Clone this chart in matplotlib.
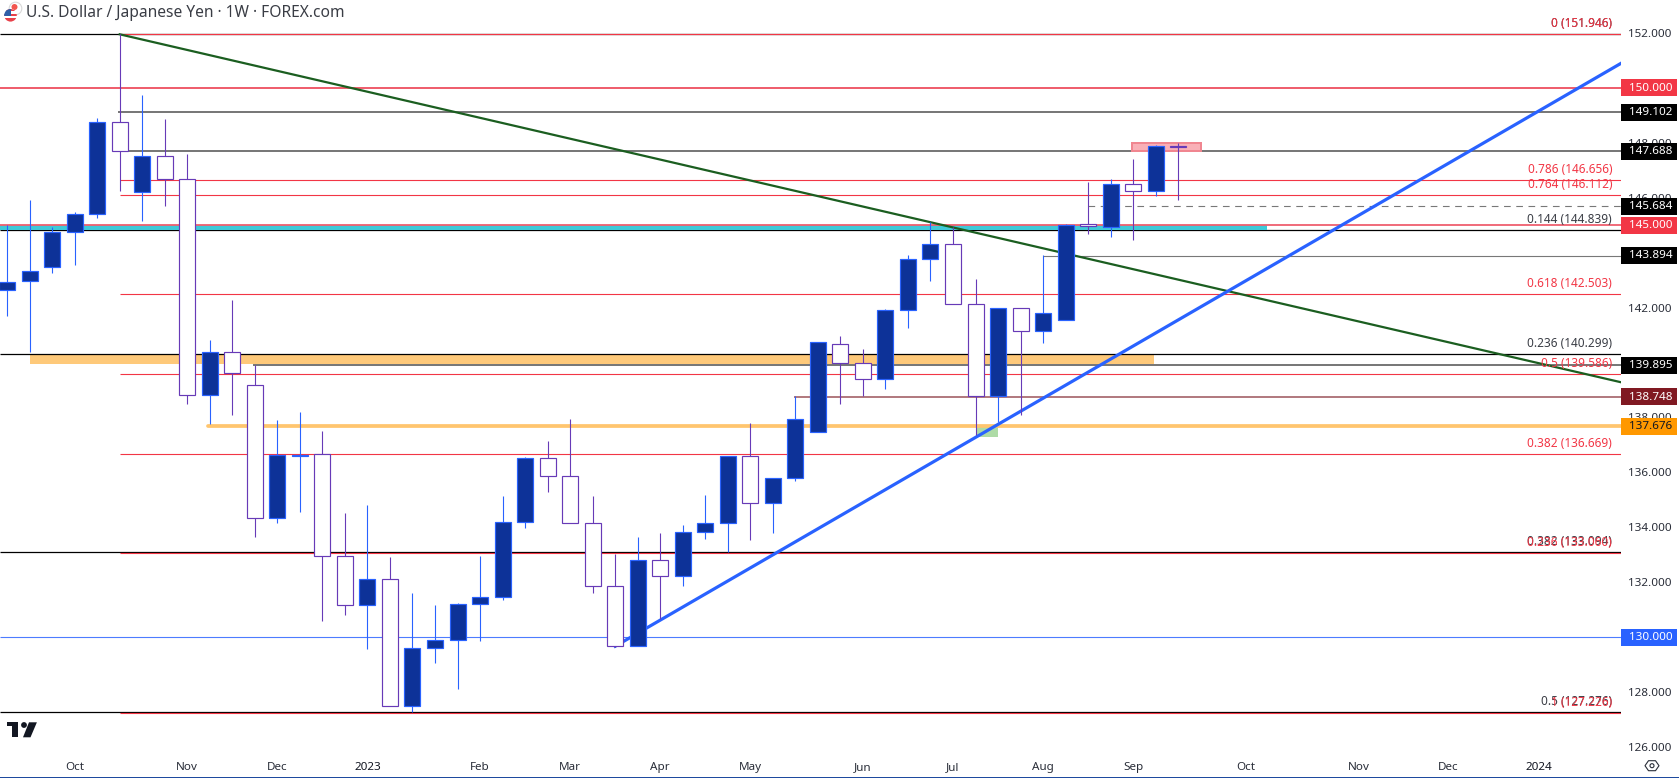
import matplotlib
matplotlib.use('Agg')
import matplotlib.pyplot as plt
from matplotlib.patches import Circle, Polygon, Rectangle

plt.rcParams['font.family'] = ['Noto Sans', 'DejaVu Sans']

# weekly candles, one value per bar. filled = 1 is the navy body, 0 the white one
body_top = [142.94, 143.34, 144.74, 145.39, 148.74, 148.74, 147.51, 147.51, 146.67, 140.37,
            140.37, 139.17, 136.62, 136.64, 136.66, 132.94, 132.11, 132.11, 129.60, 129.89,
            131.20, 131.45, 134.18, 136.51, 136.51, 135.86, 134.15, 131.85, 132.80, 132.80,
            133.82, 134.15, 136.58, 136.58, 135.78, 137.93, 140.73, 140.66, 139.99, 141.90,
            143.76, 144.30, 144.30, 142.12, 141.97, 141.97, 141.79, 144.99, 145.03, 146.49,
            146.49, 147.87, 147.87]
body_bot = [142.63, 142.95, 143.46, 144.74, 145.39, 147.69, 146.22, 146.67, 138.80, 138.80,
            139.61, 134.33, 134.33, 136.60, 132.94, 131.16, 131.16, 127.48, 127.48, 129.60,
            129.89, 131.20, 131.45, 134.18, 135.86, 134.15, 131.85, 129.67, 129.67, 132.22,
            132.22, 133.82, 134.15, 134.87, 134.87, 135.78, 137.46, 139.99, 139.39, 139.39,
            141.90, 143.76, 142.12, 138.79, 138.79, 141.16, 141.16, 141.56, 144.97, 144.94,
            146.25, 146.25, 147.85]
wick_hi = [145.00, 145.91, 144.92, 145.48, 148.90, 151.946, 149.74, 148.86, 147.59, 140.82,
           142.27, 139.91, 137.91, 138.20, 137.51, 134.51, 134.81, 132.92, 131.61, 131.17,
           131.23, 132.95, 135.14, 136.56, 137.14, 137.94, 135.14, 133.03, 133.65, 133.79,
           134.08, 135.18, 136.58, 137.80, 135.78, 138.79, 140.73, 140.96, 140.49, 141.95,
           143.91, 145.12, 144.92, 143.04, 141.97, 141.97, 143.90, 145.05, 146.57, 146.67,
           147.41, 147.92, 147.99]
wick_lo = [141.70, 140.39, 143.27, 143.55, 145.27, 146.25, 145.16, 145.71, 138.50, 137.75,
           138.10, 133.66, 134.17, 134.57, 130.60, 130.82, 129.58, 127.48, 127.29, 129.07,
           128.12, 129.87, 131.36, 133.98, 135.30, 134.15, 131.62, 129.63, 129.67, 130.65,
           131.86, 133.57, 133.10, 133.54, 133.80, 135.70, 137.46, 138.50, 138.79, 139.05,
           141.27, 142.98, 142.12, 137.36, 137.83, 138.10, 140.72, 141.56, 144.69, 144.58,
           144.47, 146.07, 145.92]
filled = [1, 1, 1, 1, 1, 0, 1, 0, 0, 1,
          0, 0, 1, 1, 0, 0, 1, 0, 1, 1,
          1, 1, 1, 1, 0, 0, 0, 0, 1, 0,
          1, 1, 1, 0, 1, 1, 1, 0, 0, 1,
          1, 1, 0, 0, 1, 0, 1, 1, 0, 1,
          0, 1, 0]

price_ticks = [126, 128, 130, 132, 134, 136, 138, 140, 142, 144, 146, 148, 150, 152]
month_pos = [3, 8, 12, 16, 21, 25, 29, 33, 38, 42, 46, 50, 55, 60, 64, 68]
month_labels = ['Oct', 'Nov', 'Dec', '2023', 'Feb', 'Mar', 'Apr', 'May', 'Jun', 'Jul', 'Aug',
                'Sep', 'Oct', 'Nov', 'Dec', '2024']

# fib levels, (level, ratio text)
red_fib = [151.946, 146.656, 146.112, 142.503, 139.586, 136.669, 133.060, 127.226]
red_fib_txt = ['0 (151.946)', '0.786 (146.656)', '0.764 (146.112)', '0.618 (142.503)',
               '0.5 (139.586)', '0.382 (136.669)', '0.236 (133.060)', '1 (127.226)']
black_fib = [151.946, 144.839, 140.299, 133.094, 127.27]
black_fib_txt = ['0 (151.946)', '0.144 (144.839)', '0.236 (140.299)', '0.382 (133.094)',
                 '0.5 (127.276)']

# price tags on the axis
tag_prices = [150.0, 149.102, 147.688, 145.684, 145.0, 143.894, 139.895, 138.748, 137.676, 130.0]
tag_colors = ['#f23645', '#000000', '#000000', '#000000', '#f23645', '#000000', '#000000',
              '#801922', '#ff9800', '#2962ff']
tag_text = ['white', 'white', 'white', 'white', 'white', 'white', 'white', 'white', '#131722',
            'white']

green_x = [5, 71.66]
green_y = [151.946, 139.28]
blue_x = [27, 71.66]
blue_y = [129.67, 150.89]

W, H = 1679, 778
AX_W, AX_H = 1621, 752
fig = plt.figure(figsize=(W / 100, H / 100), dpi=100, facecolor='white')
ax = fig.add_axes([0, 1 - AX_H / H, AX_W / W, AX_H / H])
ax.set_xlim(-0.315, 71.66)
ax.set_ylim(125.82, 153.195)
for s in ax.spines.values():
    s.set_visible(False)

RIGHT = 71.66
LEFT = -0.315

# zones
ax.fill_between([LEFT, 55.94], 144.83, 145.0, color='#3fc9d8', lw=0, zorder=2.15)
ax.fill_between([1.02, 50.93], 139.94, 140.27, color='#fec97a', lw=0, zorder=1)
ax.fill_between([43, 44], 137.30, 137.69, color='#aedba6', lw=0, zorder=1)
ax.add_patch(Rectangle((49.95, 147.69), 3.05, 0.29, facecolor='#f9b0b7', edgecolor='#f08690',
                       lw=1.44, zorder=2.2))

# fib and hand drawn levels
for v in black_fib:
    ax.hlines(v, LEFT, RIGHT, color='black', lw=0.9, zorder=2)
for v in red_fib:
    ax.hlines(v, 5, RIGHT, color='#f23645', lw=0.8, zorder=2.1)
ax.hlines(150.0, LEFT, RIGHT, color='#ef5f6e', lw=1.44, zorder=2.1)
ax.hlines(145.02, LEFT, RIGHT, color='#ef5f6e', lw=1.3, zorder=2.18)
ax.hlines([149.102, 147.688], 4.92, RIGHT, color='#787878', lw=1.44, zorder=2.1)
ax.hlines(139.895, 10.92, RIGHT, color='#787878', lw=1.44, zorder=2.1)
ax.hlines(143.894, 46, RIGHT, color='#787878', lw=0.8, zorder=2.1)
ax.hlines(145.684, 48, RIGHT, color='#787878', lw=0.8, linestyles=(0, (6, 5)), zorder=2.1)
ax.hlines(138.748, 34.94, RIGHT, color='#b27b80', lw=1.44, zorder=2.1)
ax.hlines(130.0, LEFT, RIGHT, color='#4d7cff', lw=0.8, zorder=2.1)
ax.plot([8.9, RIGHT], [137.676, 137.676], color='#ffc56e', lw=2.7, solid_capstyle='round', zorder=2.1)

ax.plot(green_x, green_y, color='#1b5e20', lw=1.6, zorder=2.3)
ax.plot(blue_x, blue_y, color='#2962ff', lw=2.3, zorder=2.3)

# candles
for i in range(len(filled)):
    if filled[i]:
        wick, face, edge = '#2962ff', '#0d3298', '#2962ff'
    else:
        wick, face, edge = '#673ab7', 'white', '#673ab7'
    ax.vlines(i, wick_lo[i], wick_hi[i], color=wick, lw=0.8, zorder=3)
    ax.bar(i, body_top[i] - body_bot[i], bottom=body_bot[i], width=0.71, facecolor=face,
           edgecolor=edge, lw=0.85, zorder=3.1)

# fib labels
ytr = ax.get_yaxis_transform()
for v, t in zip(black_fib, black_fib_txt):
    ax.annotate(t, (1, v), xycoords=ytr, xytext=(-9, 10.5), textcoords='offset pixels', ha='right',
                va='center', fontsize=8.5, color='#3a3d45', zorder=4)
for v, t in zip(red_fib, red_fib_txt):
    ax.annotate(t, (1, v), xycoords=ytr, xytext=(-9, 10.5), textcoords='offset pixels', ha='right',
                va='center', fontsize=8.5, color='#f23645', zorder=4)

# price axis
ax.yaxis.tick_right()
ax.set_yticks(price_ticks)
ax.set_yticklabels(['%.3f' % v for v in price_ticks], fontsize=8.4, color='#2a2e39')
ax.tick_params(axis='y', length=0, pad=5.2)

for v, c, tc in zip(tag_prices, tag_colors, tag_text):
    ax.add_patch(Rectangle((1, v - 0.31), 56 / AX_W, 0.62, transform=ytr, facecolor=c, lw=0,
                           clip_on=False, zorder=8))
    ax.text(1 + 8 / AX_W, v - 0.01, '%.3f' % v, transform=ytr, ha='left', va='center', fontsize=8.4,
            fontweight='semibold', color=tc, clip_on=False, zorder=9)

# time axis
ax.set_xticks(month_pos)
ax.set_xticklabels(month_labels, fontsize=8.4, color='#2a2e39')
ax.tick_params(axis='x', length=0, pad=7)
for lab, t in zip(ax.get_xticklabels(), month_labels):
    if t in ('2023', '2024'):
        lab.set_color('#131722')
        lab.set_fontweight('semibold')

# title, logo and other chrome in pixel coordinates
ov = fig.add_axes([0, 0, 1, 1], facecolor='none')
ov.set_xlim(0, W)
ov.set_ylim(H, 0)
ov.axis('off')
ov.text(26, 13, 'U.S. Dollar / Japanese Yen · 1W · FOREX.com', fontsize=11.2, color='#3a3d45',
        ha='left', va='center')

ov.add_patch(Circle((15.5, 8.5), 6.3, facecolor='white', edgecolor='#d8d8d8', lw=0.8))
ov.add_patch(Circle((14.5, 7), 3, facecolor='#f2564f', lw=0))
flag = Circle((10.5, 15.3), 6.3, facecolor='white', lw=0)
ov.add_patch(flag)
for r in [Rectangle((3, 9), 15, 2, facecolor='#e8414a', lw=0),
          Rectangle((3, 13.5), 15, 2, facecolor='#e8414a', lw=0),
          Rectangle((3, 18), 15, 4, facecolor='#e8414a', lw=0),
          Rectangle((3, 9), 8, 7, facecolor='#2f5fa8', lw=0)]:
    ov.add_patch(r)
    r.set_clip_path(flag)

ov.add_patch(Polygon([(7, 722.3), (18.3, 722.3), (18.3, 737.3), (12.3, 737.3), (12.3, 726.3), (7, 726.3)],
                     facecolor='#131722', lw=0))
ov.add_patch(Circle((24, 725), 2.9, facecolor='#131722', lw=0))
ov.add_patch(Polygon([(29, 722.3), (36.9, 722.3), (30.5, 737.3), (23, 737.3)], facecolor='#131722', lw=0))

ov.add_patch(Polygon([(1645, 765.7), (1648.5, 760.7), (1655.5, 760.7), (1659, 765.7), (1655.5, 770.7),
                      (1648.5, 770.7)], facecolor='none', edgecolor='#2a2e39', lw=0.8))
ov.add_patch(Circle((1652, 765.7), 2, facecolor='none', edgecolor='#2a2e39', lw=0.8))
ov.add_patch(Rectangle((0, 777), W, 1, facecolor='#1e4a9e', lw=0))

fig.savefig('out.png', dpi=100)
